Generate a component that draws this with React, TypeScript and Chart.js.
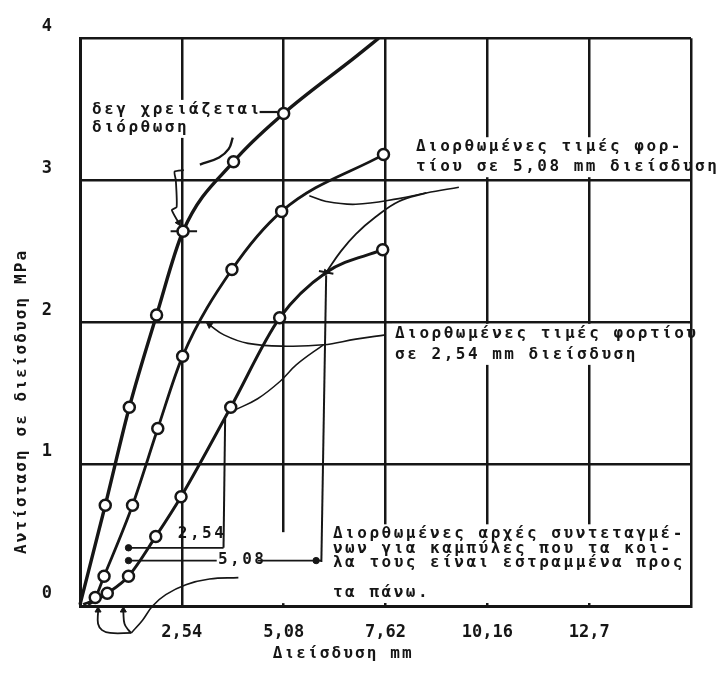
import { useEffect, useRef } from "react";
import { Chart, registerables } from "chart.js";

Chart.register(...registerables);

// ---- axes ----
const xTickValues = [0, 2.54, 5.08, 7.62, 10.16, 12.7, 15.24];
const xTickLabels = ["", "2,54", "5,08", "7,62", "10,16", "12,7", ""];
const yTickValues = [0, 1, 2, 3, 4];
const yTickLabels = ["0", "1", "2", "3", "4"];
const xAxisTitle = "Διείσδυση mm";
const yAxisTitle = "Αντίσταση σε διείσδυση MPa";

// ---- curve 1 (no correction needed) ----
const curve1X = [0, 0.63, 1.23, 1.91, 2.57, 3.83, 5.08, 6.88, 7.45];
const curve1Y = [0.01, 0.71, 1.4, 2.05, 2.64, 3.13, 3.47, 3.87, 4.0];
const curve1Measured = [false, true, true, true, true, true, true, false, false];

// ---- curve 2 ----
const curve2X = [0.08, 0.38, 0.6, 1.31, 1.94, 2.56, 3.79, 5.03, 7.57];
const curve2Y = [0.01, 0.06, 0.21, 0.71, 1.25, 1.76, 2.37, 2.78, 3.18];
const curve2Measured = [false, true, true, true, true, true, true, true, true];

// ---- curve 3 ----
const curve3X = [0.2, 0.68, 1.21, 1.89, 2.52, 3.76, 4.98, 6.14, 7.55];
const curve3Y = [0.01, 0.09, 0.21, 0.49, 0.77, 1.4, 2.03, 2.35, 2.51];
const curve3Measured = [false, true, true, true, true, true, true, false, true];

// ---- corrected-value ticks ----
const crossTick1 = [[2.26, 2.64], [2.92, 2.64]];
const crossTick3 = [[5.96, 2.36], [6.32, 2.34]];

// ---- construction lines ----
const guide254 = [[3.62, 1.32], [3.58, 0.41]];
const guide508 = [[6.14, 2.33], [6.02, 0.31]];
const arrow254 = [[3.58, 0.41], [1.21, 0.41]];
const arrow508Left = [[3.41, 0.32], [1.21, 0.32]];
const arrow508Right = [[4.43, 0.32], [6.02, 0.32]];
const arrowDots = [[1.21, 0.41], [1.21, 0.32], [5.89, 0.32]];

// ---- annotation pointers ----
const pointerNoCorr = [[4.48, 3.48], [4.93, 3.48]];
const pointerNoCorrHook = [[2.99, 3.11], [3.47, 3.16], [3.71, 3.22], [3.81, 3.3]];
const bracketNoCorr = [[2.59, 3.07], [2.36, 3.06], [2.39, 3.0], [2.41, 2.81], [2.29, 2.79], [2.46, 2.7]];
const pointer508a = [[5.72, 2.89], [6.14, 2.85], [6.88, 2.83], [7.95, 2.87], [8.64, 2.91], [9.45, 2.95]];
const pointer508b = [[6.14, 2.35], [6.51, 2.5], [6.88, 2.62], [7.37, 2.74], [7.95, 2.85], [8.64, 2.91]];
const pointer254a = [[7.62, 1.91], [6.88, 1.88], [6.07, 1.84], [5.15, 1.83], [4.19, 1.85], [3.59, 1.91], [3.23, 1.98]];
const pointer254b = [[6.07, 1.84], [5.4, 1.7], [4.98, 1.58], [4.43, 1.46], [3.86, 1.38]];
const originArrowB = [[0.45, -0.04], [0.45, -0.125], [0.55, -0.17], [0.75, -0.19], [1.28, -0.19]];
const originArrowC = [[1.08, -0.04], [1.11, -0.125], [1.21, -0.17], [1.28, -0.19]];
const originPointer = [[1.28, -0.19], [1.56, -0.1], [1.81, 0.0], [2.14, 0.08], [2.64, 0.15], [3.23, 0.19], [3.95, 0.2]];
const arrowHeads = [[0.45, -0.03], [1.08, -0.03], [6.14, 2.35], [2.46, 2.7], [3.23, 1.98]];
const arrowHeadAngles = [0, 0, 214, 152, -55];

// ---- hand-drawn gaps in the grid (x value, from y, to y) ----
const gridGaps = [{ x: 5.08, y0: 0.02, y1: 0.52 }];

// ---- annotation text layout ----
const annotationBlocks = [
  { x: 0.3, y: 3.495, lines: ["δεγ χρειάζεται", "διόρθωση"], offsets: [0, 18], mask: true },
  { x: 8.38, y: 3.232, lines: ["Διορθωμένες τιμές φορ-", "τίου σε 5,08 mm διείσδυση"], offsets: [0, 20], mask: true },
  { x: 7.86, y: 1.917, lines: ["Διορθωμένες τιμές φορτίου", "σε 2,54 mm διείσδυση"], offsets: [0, 21], mask: true },
  {
    x: 6.31,
    y: 0.505,
    lines: [
      "Διορθωμένες αρχές συντεταγμέ-",
      "νων για καμπύλες που τα κοι-",
      "λα τους είναι εστραμμένα προς",
      "τα πάνω.",
    ],
    offsets: [0, 15, 29, 59],
    mask: true,
  },
  { x: 2.44, y: 0.505, lines: ["2,54"], offsets: [0], mask: false },
  { x: 3.44, y: 0.325, lines: ["5,08"], offsets: [0], mask: false },
];
const xTitleAnchor = { x: 4.81, y: -0.339 };
const yTitleAnchor = { x: -1.447, y: 0.367 };

const INK = "#161616";
const FONT_FAMILY = "'DejaVu Sans Mono', monospace";
const TEXT_FONT = `bold 16px ${FONT_FAMILY}`;
const TEXT_SPACING = "2.5px";
const TITLE_SPACING = "2.1px";

const pts = (xs: number[], ys: number[]) => xs.map((x, i) => ({ x, y: ys[i] }));
const pairs = (p: number[][]) => p.map(([x, y]) => ({ x, y }));

const textPlugin = {
  id: "annotationText",
  beforeDatasetsDraw(chart: any) {
    const { ctx, chartArea } = chart;
    const xs = chart.scales.x;
    const ys = chart.scales.y;
    ctx.save();
    ctx.fillStyle = "#ffffff";
    for (const g of gridGaps) {
      const gx = xs.getPixelForValue(g.x);
      const top = ys.getPixelForValue(g.y1);
      const bottom = ys.getPixelForValue(g.y0);
      ctx.fillRect(gx - 2.5, top, 5, bottom - top);
    }
    ctx.font = TEXT_FONT;
    (ctx as any).letterSpacing = TEXT_SPACING;
    for (const b of annotationBlocks) {
      if (!b.mask) continue;
      const px = xs.getPixelForValue(b.x);
      const py = ys.getPixelForValue(b.y);
      let w = 0;
      for (const l of b.lines) w = Math.max(w, ctx.measureText(l).width);
      const left = px - 3;
      const right = Math.min(px + w + 3, chartArea.right - 3);
      const top = py - 10;
      const bottom = Math.min(py + b.offsets[b.offsets.length - 1] + 10, chartArea.bottom - 3);
      ctx.fillRect(left, top, right - left, bottom - top);
    }
    ctx.restore();
  },
  afterDatasetsDraw(chart: any) {
    const { ctx } = chart;
    const xs = chart.scales.x;
    const ys = chart.scales.y;
    ctx.save();
    ctx.font = TEXT_FONT;
    (ctx as any).letterSpacing = TEXT_SPACING;
    ctx.fillStyle = INK;
    ctx.textBaseline = "middle";
    ctx.textAlign = "left";
    for (const b of annotationBlocks) {
      const px = xs.getPixelForValue(b.x);
      const py = ys.getPixelForValue(b.y);
      b.lines.forEach((l, i) => ctx.fillText(l, px, py + b.offsets[i]));
    }
    (ctx as any).letterSpacing = TITLE_SPACING;
    ctx.fillText(xAxisTitle, xs.getPixelForValue(xTitleAnchor.x), ys.getPixelForValue(xTitleAnchor.y));
    ctx.translate(xs.getPixelForValue(yTitleAnchor.x), ys.getPixelForValue(yTitleAnchor.y));
    ctx.rotate(-Math.PI / 2);
    ctx.fillText(yAxisTitle, 0, 0);
    ctx.restore();
  },
};

export default function App() {
  const canvasRef = useRef<HTMLCanvasElement | null>(null);

  useEffect(() => {
    if (!canvasRef.current) return;

    const curve = (xs: number[], ys: number[], measured: boolean[], width: number) => ({
      data: pts(xs, ys),
      showLine: true,
      borderColor: INK,
      borderWidth: width,
      cubicInterpolationMode: "monotone",
      pointRadius: (c: any) => (measured[c.dataIndex] ? 5.5 : 0),
      pointBorderWidth: 2.5,
      pointBorderColor: INK,
      pointBackgroundColor: "#ffffff",
      clip: false,
    });
    const thin = (p: number[][], width = 1.6, tension = 0.4) => ({
      data: pairs(p),
      showLine: true,
      borderColor: INK,
      borderWidth: width,
      tension,
      pointRadius: 0,
      clip: false,
    });

    const chart = new Chart(canvasRef.current, {
      type: "scatter",
      data: {
        datasets: [
          curve(curve1X, curve1Y, curve1Measured, 3.4),
          curve(curve2X, curve2Y, curve2Measured, 2.8),
          curve(curve3X, curve3Y, curve3Measured, 3),
          thin(crossTick1, 2, 0),
          thin(crossTick3, 2, 0),
          thin(guide254, 2, 0),
          thin(guide508, 2, 0),
          thin(arrow254, 1.8, 0),
          thin(arrow508Left, 1.8, 0),
          thin(arrow508Right, 1.8, 0),
          {
            data: pairs(arrowDots),
            pointRadius: 3.2,
            pointBackgroundColor: INK,
            pointBorderColor: INK,
            showLine: false,
            clip: false,
          },
          thin(pointerNoCorr, 2.2, 0),
          thin(pointerNoCorrHook, 2.4, 0.4),
          thin(bracketNoCorr, 1.8, 0.2),
          thin(pointer508a, 1.6, 0.4),
          thin(pointer508b, 1.8, 0.4),
          thin(pointer254a, 1.6, 0.4),
          thin(pointer254b, 1.5, 0.4),
          thin(originArrowB, 1.8, 0.4),
          thin(originArrowC, 1.8, 0.4),
          thin(originPointer, 1.6, 0.4),
          {
            data: pairs(arrowHeads),
            pointStyle: "triangle",
            pointRadius: 3.5,
            rotation: (c: any) => arrowHeadAngles[c.dataIndex],
            pointBackgroundColor: INK,
            pointBorderColor: INK,
            showLine: false,
            clip: false,
          },
        ] as any,
      },
      options: {
        animation: false,
        responsive: true,
        maintainAspectRatio: false,
        events: [],
        layout: { padding: { top: 28, right: 30, left: 0, bottom: 0 } },
        plugins: { legend: { display: false }, tooltip: { enabled: false } },
        scales: {
          x: {
            type: "linear",
            min: 0,
            max: 15.24,
            afterBuildTicks: (s: any) => {
              s.ticks = xTickValues.map((v) => ({ value: v }));
            },
            afterFit: (s: any) => {
              s.height = 71;
            },
            ticks: {
              callback: (_v: any, i: number) => xTickLabels[i],
              font: { family: FONT_FAMILY, size: 17, weight: "bold" },
              color: INK,
              padding: 16,
              maxRotation: 0,
              autoSkip: false,
            },
            grid: { color: INK, lineWidth: 2.5, drawTicks: false },
            border: { color: INK, width: 3 },
          },
          y: {
            type: "linear",
            min: 0,
            max: 4,
            afterBuildTicks: (s: any) => {
              s.ticks = yTickValues.map((v) => ({ value: v }));
            },
            afterFit: (s: any) => {
              s.width = 80;
            },
            ticks: {
              callback: (_v: any, i: number) => yTickLabels[i],
              font: { family: FONT_FAMILY, size: 17, weight: "bold" },
              color: INK,
              padding: 28,
              labelOffset: -12,
              autoSkip: false,
            },
            grid: { color: INK, lineWidth: 2.5, drawTicks: false },
            border: { color: INK, width: 3 },
          },
        },
      } as any,
      plugins: [textPlugin],
    });

    return () => chart.destroy();
  }, []);

  return (
    <div style={{ position: "absolute", left: 0, top: 0, width: 721, height: 677, background: "#fff" }}>
      <canvas ref={canvasRef} />
    </div>
  );
}
